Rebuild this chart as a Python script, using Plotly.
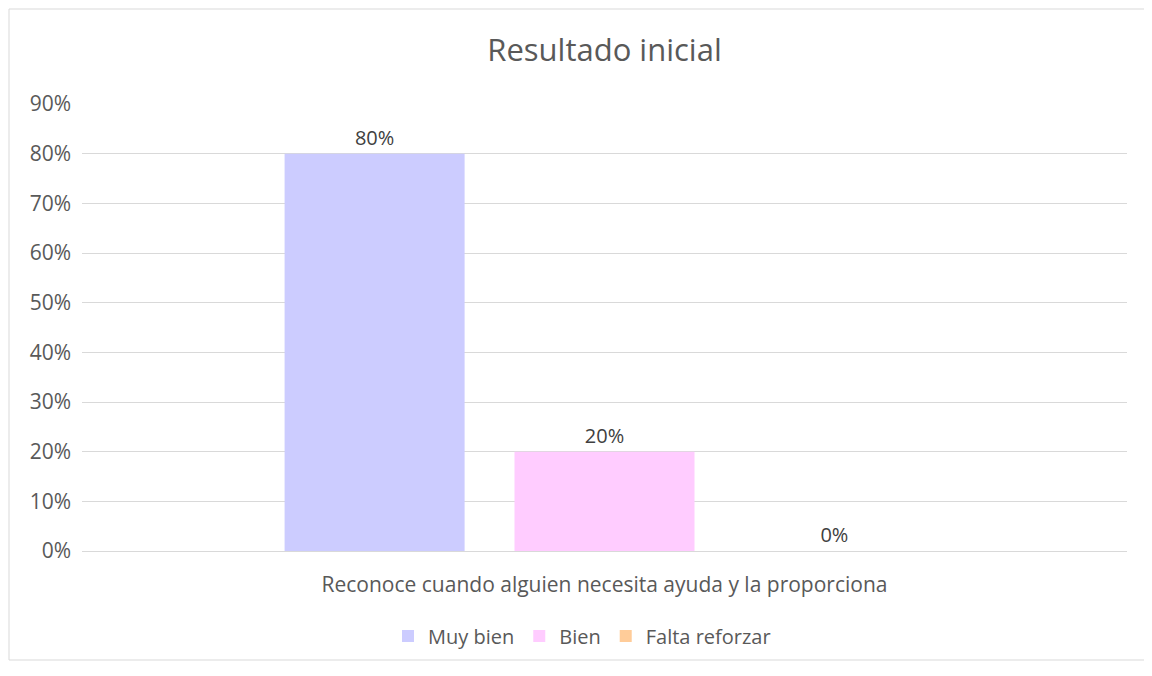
import plotly.graph_objects as go

categoria = ["Reconoce cuando alguien necesita ayuda y la proporciona"]
series = ["Muy bien", "Bien", "Falta reforzar"]
valores = [[0.80], [0.20], [0.0]]
colores = ["#CCCCFF", "#FFCCFF", "#FFCC99"]

# plot area in figure pixels
L, T, W, H = 74, 96, 1045, 447
B = T + H

fig = go.Figure()
for nombre, vals, color in zip(series, valores, colores):
    fig.add_trace(go.Bar(
        x=categoria, y=vals, name=nombre,
        marker=dict(color=color, line=dict(width=0)),
        text=[f"{v:.0%}" for v in vals],
        textposition="outside",
        textfont=dict(size=20, color="#404040"),
        cliponaxis=False,
    ))

fig.update_layout(
    width=1152, height=676,
    paper_bgcolor="white", plot_bgcolor="white",
    font=dict(family="Open Sans, Liberation Sans, sans-serif", color="#595959"),
    title=dict(text="Resultado inicial", x=(L + W / 2) / 1152, xanchor="center",
               y=1 - 42 / 676, yanchor="middle",
               font=dict(size=31, color="#595959")),
    margin=dict(l=L, r=1152 - L - W, t=T, b=676 - B),
    barmode="group", bargap=0.34, bargroupgap=0.217,
    showlegend=True,
    legend=dict(orientation="h", x=(574 - L) / W, xanchor="center", y=(B - 628) / H,
                yanchor="middle", font=dict(size=20, color="#595959"),
                traceorder="normal"),
    shapes=[dict(type="rect", xref="paper", yref="paper",
                 x0=(1 - L) / W, x1=(1140 - L) / W,
                 y0=(B - 652) / H, y1=(B - 1) / H,
                 line=dict(color="#D9D9D9", width=1), layer="below")],
)

fig.update_yaxes(range=[0, 0.9001], dtick=0.1, tickformat=".0%",
                 showgrid=True, gridcolor="#D9D9D9", gridwidth=1,
                 zeroline=False, showline=False, ticks="",
                 tickfont=dict(size=21, color="#595959"), ticklabelstandoff=10)
fig.update_xaxes(showline=True, linecolor="#D9D9D9", linewidth=1, ticks="",
                 tickfont=dict(size=21, color="#595959"), ticklabelstandoff=15)

fig.write_html("out.html")
